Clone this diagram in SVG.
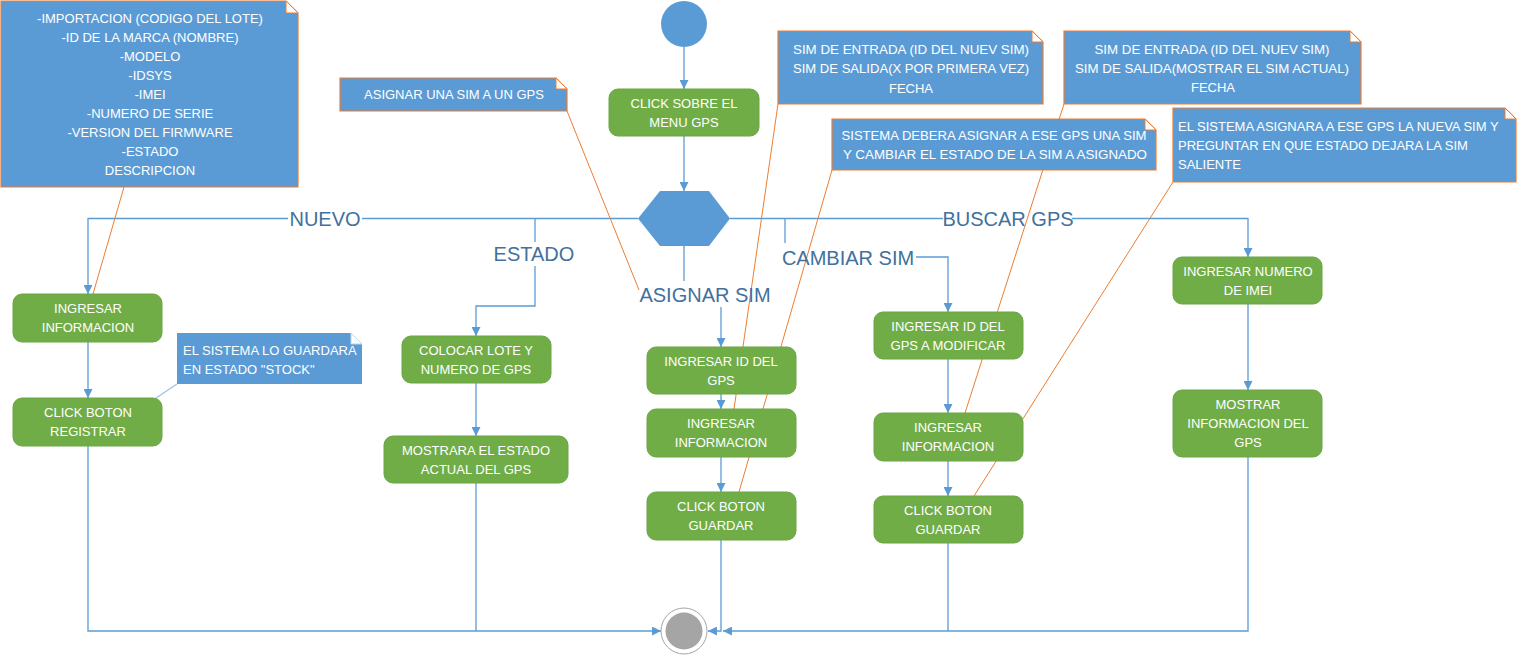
<svg xmlns="http://www.w3.org/2000/svg" width="1518" height="655" viewBox="0 0 1518 655">
<style>
.flow{fill:none;stroke:#5B9BD5;stroke-width:1.3}
.anchor{fill:none;stroke:#ED7D31;stroke-width:1}
.act{fill:#70AD47;stroke:#6AA544;stroke-width:1}
.at{font-family:"Liberation Sans",Arial,sans-serif;font-size:13px;fill:#FFFFFF;text-anchor:middle;dominant-baseline:central}
.note{fill:#5B9BD5;stroke:#ED7D31;stroke-width:1.2}
.note2{fill:#5B9BD5;stroke:none}
.fold{fill:#FFFFFF;stroke:#ED7D31;stroke-width:1}
.fold2{fill:#FFFFFF;stroke:#BDD7EE;stroke-width:1}
.nt{font-family:"Liberation Sans",Arial,sans-serif;font-size:13px;fill:#FFFFFF;dominant-baseline:central}
.c{text-anchor:middle}
.lbl{font-family:"Liberation Sans",Arial,sans-serif;font-size:20px;fill:#41719C;text-anchor:middle;dominant-baseline:central}
</style>
<defs>
<marker id="arr" markerUnits="userSpaceOnUse" markerWidth="9" markerHeight="9" refX="9" refY="4.5" orient="auto">
<path d="M0,0 L9,4.5 L0,9 z" fill="#5B9BD5"/>
</marker>
</defs>
<rect width="1518" height="655" fill="#FFFFFF"/>

<g id="connectors">
<path class="flow" d="M684,47 V89" marker-end="url(#arr)"/>
<path class="flow" d="M684,136 V191" marker-end="url(#arr)"/>
<path class="flow" d="M638,218.5 H362"/>
<path class="flow" d="M288,218.5 H88 V294" marker-end="url(#arr)"/>
<path class="flow" d="M535,218.5 V242"/>
<path class="flow" d="M535,266 V306 H476 V336" marker-end="url(#arr)"/>
<path class="flow" d="M684,246 V281"/>
<path class="flow" d="M721,307 V347" marker-end="url(#arr)"/>
<path class="flow" d="M730,218.5 H943"/>
<path class="flow" d="M785,218.5 V243"/>
<path class="flow" d="M916,257 H948 V312" marker-end="url(#arr)"/>
<path class="flow" d="M1072,218.5 H1248 V257" marker-end="url(#arr)"/>
<path class="flow" d="M88,342 V398" marker-end="url(#arr)"/>
<path class="flow" d="M88,446 V631 H661" marker-end="url(#arr)"/>
<path class="flow" d="M476,383 V436" marker-end="url(#arr)"/>
<path class="flow" d="M476,483 V631"/>
<path class="flow" d="M721,394 V409" marker-end="url(#arr)"/>
<path class="flow" d="M721,457 V492" marker-end="url(#arr)"/>
<path class="flow" d="M721,540 V631 H708" marker-end="url(#arr)"/>
<path class="flow" d="M948,359 V413" marker-end="url(#arr)"/>
<path class="flow" d="M948,461 V496" marker-end="url(#arr)"/>
<path class="flow" d="M948,543 V631"/>
<path class="flow" d="M1248,304 V390" marker-end="url(#arr)"/>
<path class="flow" d="M1248,457 V631 H723" marker-end="url(#arr)"/>
<path class="flow" d="M156,398 L177,384" style="stroke:#9DC3E6"/>
<path class="anchor" d="M124,187 L93,294"/>
<path class="anchor" d="M567,111 L639,290"/>
<path class="anchor" d="M778,104 L734,409"/>
<path class="anchor" d="M832,170 L739,492"/>
<path class="anchor" d="M1064,104 L965,413"/>
<path class="anchor" d="M1173,182 L974,496"/>
<text class="lbl" x="325" y="219">NUEVO</text>
<text class="lbl" x="534" y="254">ESTADO</text>
<text class="lbl" x="705" y="295">ASIGNAR SIM</text>
<text class="lbl" x="848" y="258">CAMBIAR SIM</text>
<text class="lbl" x="1008" y="219">BUSCAR GPS</text>
</g>

<g id="start"><circle cx="684" cy="24" r="23" fill="#5B9BD5"/></g>
<g id="end"><circle cx="684" cy="631" r="23" fill="#FFFFFF" stroke="#A5A5A5" stroke-width="1"/><circle cx="684" cy="631" r="18.5" fill="#A5A5A5"/></g>
<g id="decision"><polygon points="638,218.5 660,191 709,191 730,218.5 709,246 660,246" fill="#5B9BD5"/></g>

<g id="n-menu"><rect class="act" x="609" y="89" width="150" height="47" rx="9"/><text class="at" x="684" y="103">CLICK SOBRE EL</text><text class="at" x="684" y="122">MENU GPS</text></g>

<g id="n-ingresar-info-1"><rect class="act" x="13" y="294" width="149" height="48" rx="9"/><text class="at" x="88" y="308">INGRESAR</text><text class="at" x="88" y="327">INFORMACION</text></g>
<g id="n-registrar"><rect class="act" x="13" y="398" width="149" height="48" rx="9"/><text class="at" x="88" y="412">CLICK BOTON</text><text class="at" x="88" y="431">REGISTRAR</text></g>

<g id="n-colocar"><rect class="act" x="402" y="336" width="149" height="47" rx="9"/><text class="at" x="476" y="350">COLOCAR LOTE Y</text><text class="at" x="476" y="369">NUMERO DE GPS</text></g>
<g id="n-mostrara"><rect class="act" x="384" y="436" width="184" height="47" rx="9"/><text class="at" x="476" y="450">MOSTRARA EL ESTADO</text><text class="at" x="476" y="469">ACTUAL DEL GPS</text></g>

<g id="n-id-gps"><rect class="act" x="647" y="347" width="149" height="47" rx="9"/><text class="at" x="721" y="361">INGRESAR ID DEL</text><text class="at" x="721" y="380">GPS</text></g>
<g id="n-ingresar-info-2"><rect class="act" x="647" y="409" width="149" height="48" rx="9"/><text class="at" x="721" y="423">INGRESAR</text><text class="at" x="721" y="442">INFORMACION</text></g>
<g id="n-guardar-1"><rect class="act" x="647" y="492" width="149" height="48" rx="9"/><text class="at" x="721" y="506">CLICK BOTON</text><text class="at" x="721" y="525">GUARDAR</text></g>

<g id="n-id-modificar"><rect class="act" x="874" y="312" width="149" height="47" rx="9"/><text class="at" x="948" y="326">INGRESAR ID DEL</text><text class="at" x="948" y="345">GPS A MODIFICAR</text></g>
<g id="n-ingresar-info-3"><rect class="act" x="874" y="413" width="149" height="48" rx="9"/><text class="at" x="948" y="427">INGRESAR</text><text class="at" x="948" y="446">INFORMACION</text></g>
<g id="n-guardar-2"><rect class="act" x="874" y="496" width="149" height="47" rx="9"/><text class="at" x="948" y="510">CLICK BOTON</text><text class="at" x="948" y="529">GUARDAR</text></g>

<g id="n-imei"><rect class="act" x="1173" y="257" width="149" height="47" rx="9"/><text class="at" x="1248" y="271">INGRESAR NUMERO</text><text class="at" x="1248" y="290">DE IMEI</text></g>
<g id="n-mostrar-info"><rect class="act" x="1173" y="390" width="149" height="67" rx="9"/><text class="at" x="1248" y="404">MOSTRAR</text><text class="at" x="1248" y="423">INFORMACION DEL</text><text class="at" x="1248" y="442">GPS</text></g>

<g id="note-campos">
<path class="note" d="M1,1 H286 L298,13 V187 H1 Z"/>
<path class="fold" d="M286,1 V13 H298 Z"/>
<text class="nt c" x="150" y="18">-IMPORTACION (CODIGO DEL LOTE)</text>
<text class="nt c" x="150" y="37">-ID DE LA MARCA (NOMBRE)</text>
<text class="nt c" x="150" y="56">-MODELO</text>
<text class="nt c" x="150" y="75">-IDSYS</text>
<text class="nt c" x="150" y="94">-IMEI</text>
<text class="nt c" x="150" y="113">-NUMERO DE SERIE</text>
<text class="nt c" x="150" y="132">-VERSION DEL FIRMWARE</text>
<text class="nt c" x="150" y="151">-ESTADO</text>
<text class="nt c" x="150" y="170">DESCRIPCION</text>
</g>

<g id="note-asignar">
<path class="note" d="M340,78 H556 L567,89 V111 H340 Z"/>
<path class="fold" d="M556,78 V89 H567 Z"/>
<text class="nt c" x="454" y="94">ASIGNAR UNA SIM A UN GPS</text>
</g>

<g id="note-stock">
<path class="note2" d="M177,333 H351 L362,344 V384 H177 Z"/>
<path class="fold2" d="M351,333 V344 H362 Z"/>
<text class="nt" x="183" y="350">EL SISTEMA LO GUARDARA</text>
<text class="nt" x="183" y="369">EN ESTADO "STOCK"</text>
</g>

<g id="note-sim-1">
<path class="note" d="M778,31 H1032 L1043,42 V104 H778 Z"/>
<path class="fold" d="M1032,31 V42 H1043 Z"/>
<text class="nt c" x="911" y="49" textLength="236" lengthAdjust="spacingAndGlyphs">SIM DE ENTRADA (ID DEL NUEV SIM)</text>
<text class="nt c" x="911" y="68" textLength="236" lengthAdjust="spacingAndGlyphs">SIM DE SALIDA(X POR PRIMERA VEZ)</text>
<text class="nt c" x="911" y="88">FECHA</text>
</g>

<g id="note-sistema-1">
<path class="note" d="M832,119 H1145 L1156,130 V170 H832 Z"/>
<path class="fold" d="M1145,119 V130 H1156 Z"/>
<text class="nt c" x="994" y="135" textLength="305" lengthAdjust="spacingAndGlyphs">SISTEMA DEBERA ASIGNAR A ESE GPS UNA SIM</text>
<text class="nt c" x="995" y="154" textLength="304" lengthAdjust="spacingAndGlyphs">Y CAMBIAR EL ESTADO DE LA SIM A ASIGNADO</text>
</g>

<g id="note-sim-2">
<path class="note" d="M1064,31 H1350 L1361,42 V104 H1064 Z"/>
<path class="fold" d="M1350,31 V42 H1361 Z"/>
<text class="nt c" x="1212" y="49" textLength="235" lengthAdjust="spacingAndGlyphs">SIM DE ENTRADA (ID DEL NUEV SIM)</text>
<text class="nt c" x="1212" y="68" textLength="274" lengthAdjust="spacingAndGlyphs">SIM DE SALIDA(MOSTRAR EL SIM ACTUAL)</text>
<text class="nt c" x="1213" y="87">FECHA</text>
</g>

<g id="note-sistema-2">
<path class="note" d="M1173,108 H1505 L1516,119 V182 H1173 Z"/>
<path class="fold" d="M1505,108 V119 H1516 Z"/>
<text class="nt" x="1178" y="126">EL SISTEMA ASIGNARA A ESE GPS LA NUEVA SIM Y</text>
<text class="nt" x="1178" y="145">PREGUNTAR EN QUE ESTADO DEJARA LA SIM</text>
<text class="nt" x="1178" y="164">SALIENTE</text>
</g>
</svg>
